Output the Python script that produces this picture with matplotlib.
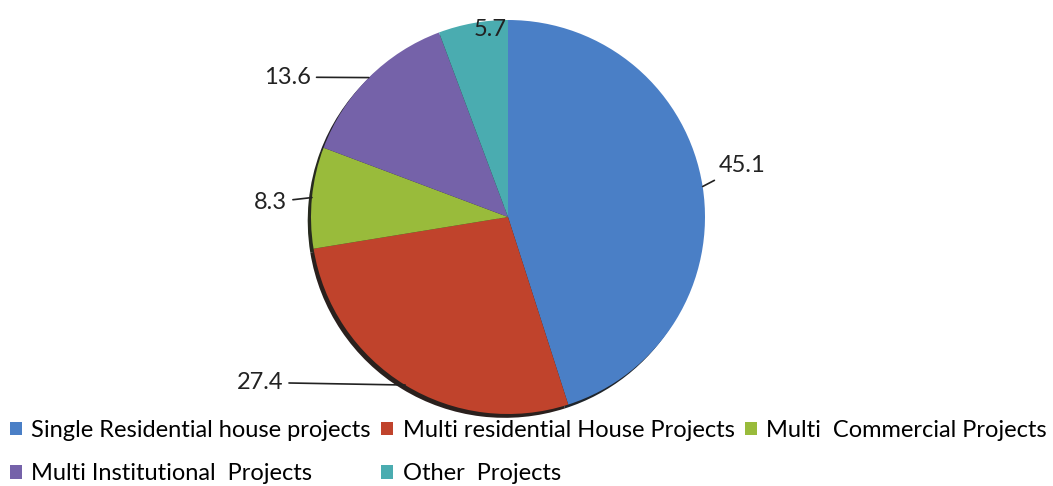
import matplotlib.pyplot as plt
from matplotlib.patches import Patch
import numpy as np

# data
categories = ['Single Residential house projects', 'Multi residential House Projects',
              'Multi  Commercial Projects', 'Multi Institutional  Projects', 'Other  Projects']
values = [45.1, 27.4, 8.3, 13.6, 5.7]
labels = ['45.1', '27.4', '8.3', '13.6', '5.7']
colors = ['#4a7fc6', '#c0432c', '#99bb3b', '#7562a9', '#4aacb0']

plt.rcParams['font.family'] = ['Lato', 'DejaVu Sans']

W, H = 1053, 486
fig = plt.figure(figsize=(W / 100, H / 100), dpi=100)
fig.patch.set_facecolor('white')

# pie centre / radius in pixels
cx, cy, r = 508, 217, 197
ax = fig.add_axes([(cx - r) / W, (H - cy - r) / H, 2 * r / W, 2 * r / H])

wedges, _ = ax.pie(values, colors=colors, startangle=90, counterclock=False,
                   radius=1,
                   shadow={'ox': -0.012, 'oy': -0.014, 'shade': 0.9, 'alpha': 0.9},
                   wedgeprops={'linewidth': 0})
ax.set_xlim(-1, 1)
ax.set_ylim(-1, 1)
ax.set_aspect('equal')
ax.axis('off')

# label text positions (axes data units) and alignment
text_pos = [(1.07, 0.26, 'left'), (-1.14, -0.84, 'right'), (-1.12, 0.075, 'right'),
            (-1.0, 0.71, 'right'), (-0.09, 0.90, 'center')]

for w, lab, (tx, ty, ha) in zip(wedges, labels, text_pos):
    ang = np.deg2rad((w.theta1 + w.theta2) / 2)
    ex, ey = np.cos(ang), np.sin(ang)
    if ha == 'center':
        ax.text(tx, ty, lab, ha='center', va='bottom', fontsize=17, color='#222222')
        continue
    ax.annotate(lab, xy=(ex, ey), xytext=(tx, ty), ha=ha, va='center',
                fontsize=17, color='#222222',
                arrowprops=dict(arrowstyle='-', color='#222222', lw=1.2,
                                shrinkA=2, shrinkB=0))

handles = [Patch(facecolor=c, edgecolor='none') for c in colors]
order = [0, 3, 1, 4, 2]
fig.legend([handles[i] for i in order], [categories[i] for i in order],
           ncol=3, loc='lower left', bbox_to_anchor=(0.005, -0.006),
           frameon=False, fontsize=17, handlelength=0.5, handleheight=0.5,
           handletextpad=0.4, columnspacing=0.45, labelspacing=0.95,
           borderaxespad=0.0, borderpad=0.2)

fig.savefig('out.png', dpi=100, facecolor='white')
